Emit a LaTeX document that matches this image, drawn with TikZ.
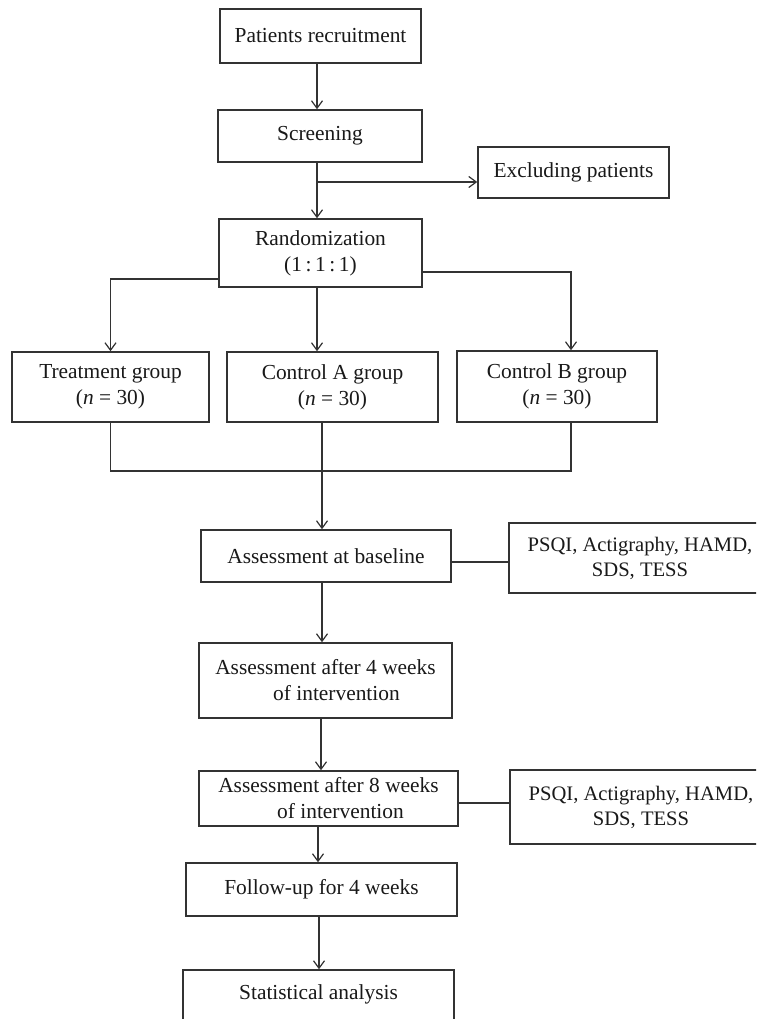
\documentclass[tikz,border=0pt]{standalone}
\usepackage{fontspec}
\setmainfont{Liberation Serif}
\usetikzlibrary{arrows.meta}
\begin{document}
\begin{tikzpicture}[x=1pt,y=-1pt,
  box/.style={draw=black!80, line width=1.5pt, inner sep=0pt, align=center,
    font=\fontsize{21.4}{26}\selectfont, text=black!90},
  sidebox/.style={box, font=\fontsize{20.6}{25}\selectfont},
  lbl/.style={inner sep=0pt, align=center, font=\fontsize{21.4}{26}\selectfont, text=black!90},
  conn/.style={draw=black!80, line width=1.2pt},
  arr/.style={conn, -{Straight Barb[length=7.5pt,width=11pt]}}]
\useasboundingbox (0,0) rectangle (756,1019);
\fill[white] (0,0) rectangle (756,1019);
\clip (0,0) rectangle (756,1019);

% boxes
\node[box, minimum width=201pt, minimum height=54pt] (recruit) at (320.5,36) {Patients recruitment};
\node[box, minimum width=204pt, minimum height=52pt] (screen) at (320,136) {Screening};
\node[box, minimum width=191pt, minimum height=51pt] (exclude) at (573.5,172.5) {Excluding patients};
\node[box, minimum width=203pt, minimum height=68pt] (random) at (320.5,253) {Randomization\\(1\,:\,1\,:\,1)};
\node[box, minimum width=197pt, minimum height=70pt] (treat) at (110.5,387) {Treatment group\\(\textit{n} = 30)};
\node[box, minimum width=211pt, minimum height=70pt] (ctrlA) at (332.5,387) {Control A group\\(\textit{n} = 30)};
\node[box, minimum width=200pt, minimum height=71pt] (ctrlB) at (557,386.5) {Control B group\\(\textit{n} = 30)};
\node[box, minimum width=250pt, minimum height=52pt] (base) at (326,556) {Assessment at baseline};
\node[sidebox, minimum width=262pt, minimum height=70pt] (psqiA) at (640,558) {PSQI, Actigraphy, HAMD,\\SDS, TESS};
\node[box, minimum width=253pt, minimum height=75pt] (wkfour) at (325.5,680.5) {Assessment after 4 weeks\\\hspace*{22pt}of intervention};
\node[box, minimum width=259pt, minimum height=55pt] (wkeight) at (328.5,798.5) {Assessment after 8 weeks\\\hspace*{24pt}of intervention};
\node[sidebox, minimum width=262pt, minimum height=74pt] (psqiB) at (641,807) {PSQI, Actigraphy, HAMD,\\SDS, TESS};
\node[box, minimum width=271pt, minimum height=53pt] (follow) at (321.5,889.5) {Follow-up for 4 weeks};
\node[box, minimum width=271pt, minimum height=80pt] (stat) at (318.5,1010) {};
\node[lbl] (statlabel) at (318.5,994) {Statistical analysis};

% helper coordinates
\coordinate (spine) at (317,0);
\coordinate (br) at (317,182);
\coordinate (yleft) at (0,279);
\coordinate (yright) at (0,272);
\coordinate (xB) at (571,0);
\coordinate (mL) at (111,471);
\coordinate (mR) at (571,471);
\coordinate (xC) at (322,0);
\coordinate (yA) at (0,562);
\coordinate (yB) at (0,803);
\coordinate (xwk) at (321,0);
\coordinate (xfol) at (318,0);
\coordinate (xst) at (319,0);

% connectors
\draw[arr] (recruit.south -| spine) -- (screen.north -| spine);
\draw[arr] (screen.south -| spine) -- (random.north -| spine);
\draw[arr] (br) -- (exclude.west |- br);
\draw[arr] (random.west |- yleft) -| (treat.north);
\draw[arr] (random.south -| spine) -- (ctrlA.north -| spine);
\draw[arr] (random.east |- yright) -| (ctrlB.north -| xB);
\draw[conn] (treat.south) -- (treat.south |- mL) -- (mR) -- (ctrlB.south -| mR);
\draw[arr] (ctrlA.south -| xC) -- (base.north -| xC);
\draw[conn] (base.east |- yA) -- (psqiA.west |- yA);
\draw[arr] (base.south -| xC) -- (wkfour.north -| xC);
\draw[arr] (wkfour.south -| xwk) -- (wkeight.north -| xwk);
\draw[conn] (wkeight.east |- yB) -- (psqiB.west |- yB);
\draw[arr] (wkeight.south -| xfol) -- (follow.north -| xfol);
\draw[arr] (follow.south -| xst) -- (stat.north -| xst);
\end{tikzpicture}
\end{document}
